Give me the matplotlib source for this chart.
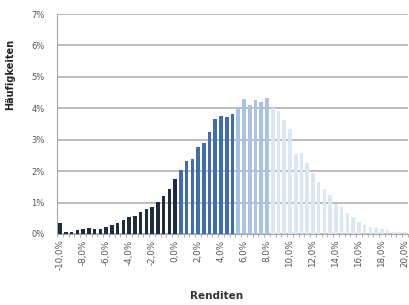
import numpy as np
import matplotlib
matplotlib.use("Agg")
import matplotlib.pyplot as plt

# Renditen von -10,0% bis 20,0% in 0,5%-Schritten
returns = np.arange(-100, 201, 5) / 10.0
freq = [
    0.36, 0.06, 0.06, 0.13, 0.16, 0.19, 0.16, 0.15, 0.23, 0.30,
    0.36, 0.44, 0.55, 0.57, 0.70, 0.78, 0.85, 1.01, 1.20, 1.44,
    1.75, 2.04, 2.31, 2.39, 2.76, 2.91, 3.23, 3.67, 3.74, 3.71,
    3.82, 4.01, 4.30, 4.12, 4.26, 4.19, 4.33, 4.01, 3.90, 3.64,
    3.34, 2.55, 2.57, 2.26, 1.94, 1.64, 1.43, 1.24, 0.96, 0.87,
    0.66, 0.53, 0.39, 0.29, 0.23, 0.18, 0.16, 0.11, 0.07, 0.07,
    0.05,
]
tick_labels = ["-10,0%", "-8,0%", "-6,0%", "-4,0%", "-2,0%", "0,0%", "2,0%",
               "4,0%", "6,0%", "8,0%", "10,0%", "12,0%", "14,0%", "16,0%",
               "18,0%", "20,0%"]
y_labels = ["0%", "1%", "2%", "3%", "4%", "5%", "6%", "7%"]


def bar_colour(r):
    if r <= 0.0:
        return "#1f2b3f"
    if r <= 5.0:
        return "#3e6db3"
    if r <= 8.0:
        return "#a9c3e5"
    return "#dce6f4"


fig = plt.figure(figsize=(4.09, 3.05), dpi=100)
fig.patch.set_facecolor("white")
ax = fig.add_axes([0.140, 0.233, 0.857, 0.721])

x = np.arange(len(returns))
colours = [bar_colour(r) for r in returns]
ax.bar(x, np.array(freq) / 100.0, width=0.62, color=colours, zorder=3)

ax.set_xlim(-0.5, len(returns) - 0.5)
ax.set_ylim(0, 0.07)
ax.set_yticks(np.arange(0, 0.071, 0.01))
ax.set_yticklabels(y_labels)
ax.yaxis.grid(True, color="#b8b8b8", linewidth=1.3, zorder=0)
ax.set_axisbelow(True)

ax.set_xticks(x[::4])
ax.set_xticklabels(tick_labels, rotation=90)
ax.set_xticks(np.arange(-0.5, len(returns), 1), minor=True)

for side in ["top", "right"]:
    ax.spines[side].set_visible(False)
ax.spines["left"].set_color("#a6a6a6")
ax.spines["bottom"].set_color("#a6a6a6")
ax.tick_params(axis="y", length=0, labelsize=6, labelcolor="#555555", pad=9)
ax.tick_params(axis="x", which="major", length=0, labelsize=6.3,
               labelcolor="#555555", pad=4)
ax.tick_params(axis="x", which="minor", length=2.5, color="#a6a6a6")

fig.text(0.025, 0.757, "Häufigkeiten", rotation=90, ha="center", va="center",
         fontsize=7, fontweight="bold", color="#222222")
fig.text(0.53, 0.03, "Renditen", ha="center", va="center",
         fontsize=7.5, fontweight="bold", color="#333333")

fig.savefig("out.png", dpi=100)
